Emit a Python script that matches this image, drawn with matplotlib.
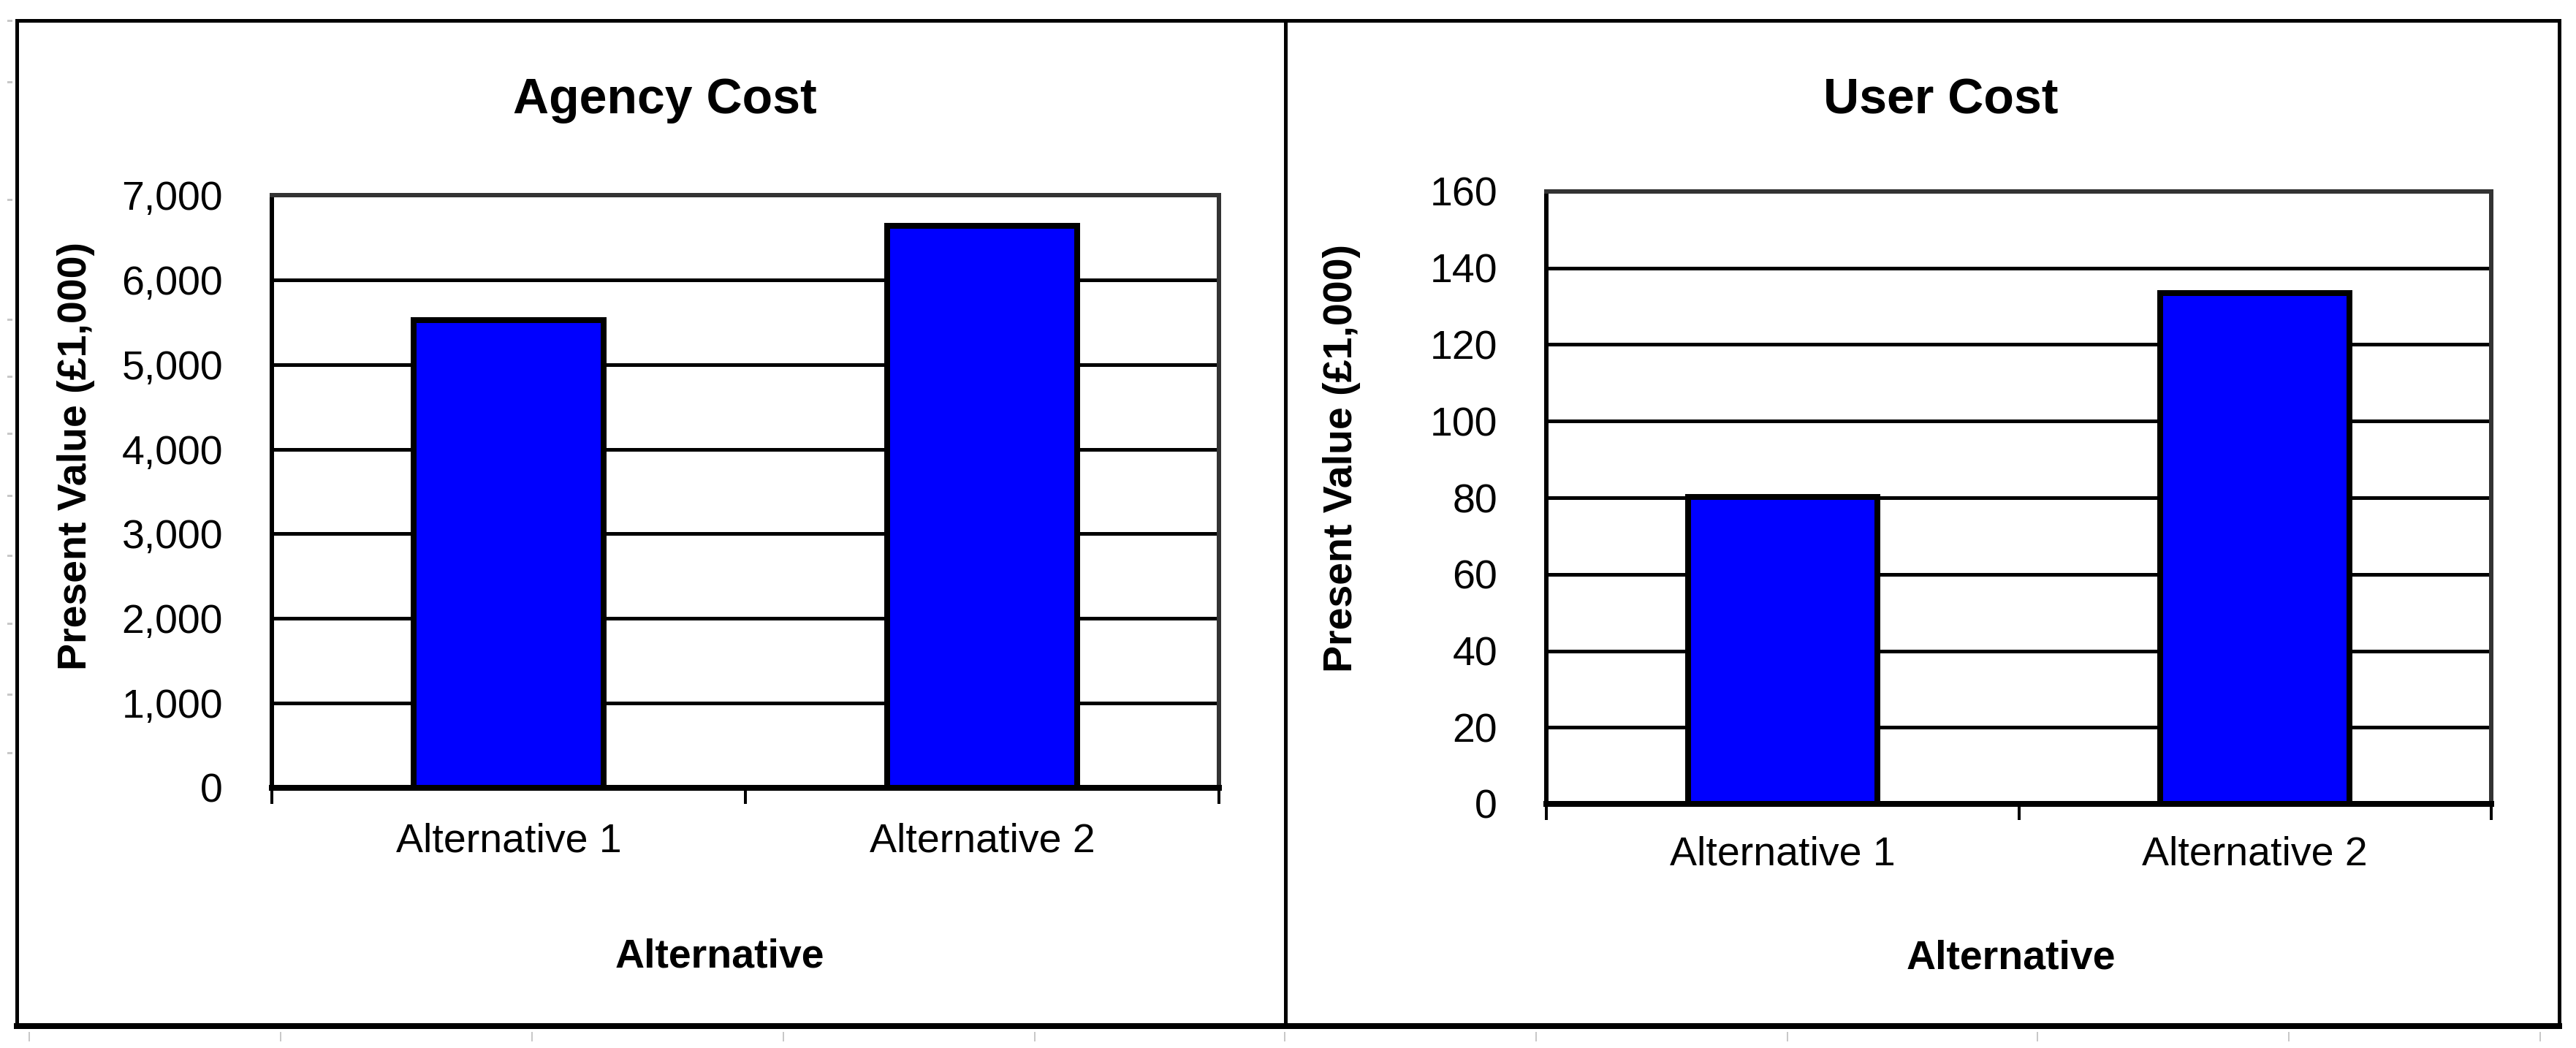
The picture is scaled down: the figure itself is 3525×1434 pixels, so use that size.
import matplotlib
matplotlib.use('Agg')
import matplotlib.pyplot as plt
from matplotlib.ticker import FuncFormatter
from matplotlib.lines import Line2D
from matplotlib.patches import Rectangle

plt.rcParams['font.family'] = ['Liberation Sans', 'DejaVu Sans']

# ---------------- data ----------------
categories = ['Alternative 1', 'Alternative 2']
agency_cost = [5520, 6640]
user_cost = [80.2, 133.5]
agency_ticks = [0, 1000, 2000, 3000, 4000, 5000, 6000, 7000]
user_ticks = [0, 20, 40, 60, 80, 100, 120, 140, 160]
titles = ['Agency Cost', 'User Cost']
x_label = 'Alternative'
y_label = 'Present Value (£1,000)'

# ---------------- layout helpers ----------------
W, H = 3525, 1434
DPI = 100
PT = 72.0 / DPI  # points per pixel

fig = plt.figure(figsize=(W / DPI, H / DPI), dpi=DPI)
fig.patch.set_facecolor('white')


def fx(px):
    return px / W


def fy(py):
    return 1 - py / H


def axes_rect(x0, x1, ytop, ybot):
    return [fx(x0), fy(ybot), (x1 - x0) / W, (ybot - ytop) / H]


def setup(ax, values, ticks, ylab_xy, xlab_xy, xpad):
    xs = list(range(len(categories)))
    ax.set_axisbelow(True)
    ax.yaxis.grid(True, color='black', linewidth=5 * PT)
    ax.bar(xs, values, width=0.40, color='#0000ff', edgecolor='black',
           linewidth=8 * PT, zorder=3)
    ax.set_xlim(-0.5, len(categories) - 0.5)
    ax.set_ylim(ticks[0], ticks[-1])
    ax.set_yticks(ticks)
    ax.yaxis.set_major_formatter(FuncFormatter(lambda v, p: f'{v:,.0f}'))
    ax.set_xticks(xs)
    ax.set_xticklabels(categories)
    ax.set_xticks([i - 0.5 for i in range(len(categories) + 1)], minor=True)
    ax.tick_params(axis='y', which='both', length=0, pad=67 * PT, labelsize=40)
    ax.tick_params(axis='x', which='major', length=0, pad=xpad, labelsize=40)
    ax.tick_params(axis='x', which='minor', length=22 * PT, width=4 * PT,
                   color='black', direction='out')
    ax.spines['left'].set_color('black')
    ax.spines['left'].set_linewidth(6 * PT)
    ax.spines['bottom'].set_color('black')
    ax.spines['bottom'].set_linewidth(8 * PT)
    for s in ('top', 'right'):
        ax.spines[s].set_color('#333333')
        ax.spines[s].set_linewidth(6 * PT)
    ax.set_ylabel(y_label, fontsize=40, fontweight='bold', va='center')
    ax.yaxis.set_label_coords(*ylab_xy)
    ax.set_xlabel(x_label, fontsize=40, fontweight='bold', va='center')
    ax.xaxis.set_label_coords(*xlab_xy)


# left chart: plot area 372..1668 x 267..1078 px
axL = fig.add_axes(axes_rect(372, 1668, 267, 1078))
setup(axL, agency_cost, agency_ticks,
      ((104 - 372) / 1296, (1078 - 624) / 811),
      ((985 - 372) / 1296, (1078 - 1309) / 811),
      34)

# right chart: plot area 2116..3409 x 262..1100 px
axR = fig.add_axes(axes_rect(2116, 3409, 262, 1100))
setup(axR, user_cost, user_ticks,
      ((1836 - 2116) / 1293, (1100 - 627) / 838),
      ((2752 - 2116) / 1293, (1100 - 1312) / 838),
      31)

# titles
fig.text(fx(910), fy(137), titles[0], fontsize=49, fontweight='bold',
         ha='center', va='center')
fig.text(fx(2656), fy(137), titles[1], fontsize=49, fontweight='bold',
         ha='center', va='center')

# outer frame and divider
fig.add_artist(Rectangle((fx(23), fy(1405)), (3502 - 23) / W, (1405 - 28) / H,
                         transform=fig.transFigure, fill=False,
                         edgecolor='black', linewidth=5 * PT))
fig.add_artist(Line2D([fx(23), fx(3502)], [fy(1404), fy(1404)],
                      transform=fig.transFigure, color='black',
                      linewidth=8 * PT))
fig.add_artist(Line2D([fx(1759), fx(1759)], [fy(28), fy(1405)],
                      transform=fig.transFigure, color='black',
                      linewidth=5 * PT))

# faint sheet-grid marks outside the frame
for px in [40, 384, 728, 1072, 1416, 1758, 2102, 2446, 2788, 3132, 3476]:
    fig.add_artist(Line2D([fx(px), fx(px)], [fy(1413), fy(1424)],
                          transform=fig.transFigure, color='#c8c8c8',
                          linewidth=2 * PT))
for py in [28, 112, 273, 437, 515, 593, 678, 760, 853, 950, 1030]:
    fig.add_artist(Line2D([fx(11), fx(15)], [fy(py), fy(py)],
                          transform=fig.transFigure, color='#c8c8c8',
                          linewidth=3 * PT))

fig.savefig('out.png', dpi=DPI, facecolor='white')
